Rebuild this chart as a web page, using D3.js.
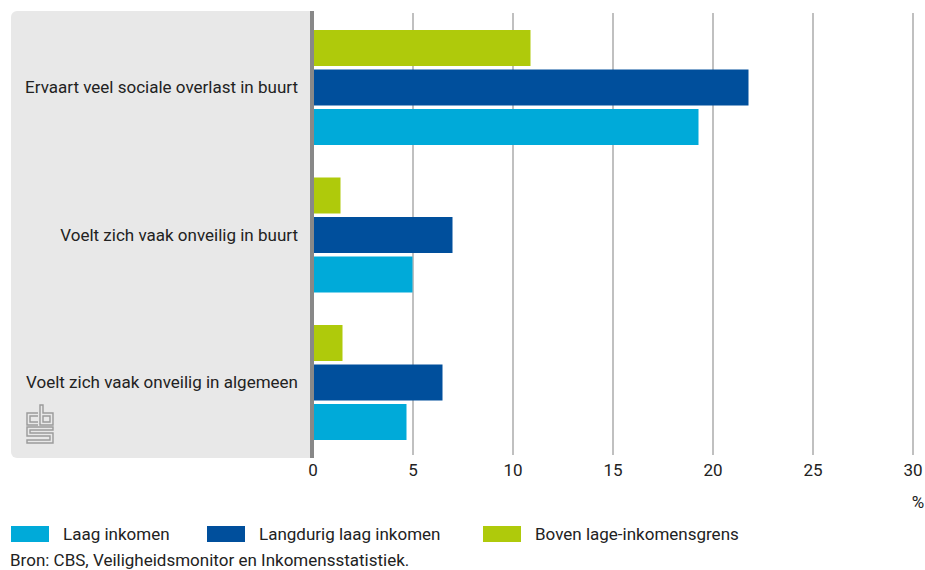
<!DOCTYPE html>
<html>
<head>
<meta charset="utf-8">
<script src="https://cdn.jsdelivr.net/npm/d3@7"></script>
<style>
  html, body { margin: 0; padding: 0; background: #fff; }
  svg { display: block; font-family: Roboto, "Noto Sans", sans-serif; }
</style>
</head>
<body>
<svg id="chart" width="925" height="570"></svg>
<script>
const categories = [
  "Ervaart veel sociale overlast in buurt",
  "Voelt zich vaak onveilig in buurt",
  "Voelt zich vaak onveilig in algemeen"
];
const seriesNames = ["Boven lage-inkomensgrens", "Langdurig laag inkomen", "Laag inkomen"];
const boven = [10.9, 1.4, 1.5];
const langdurig = [21.8, 7.0, 6.5];
const laag = [19.3, 5.0, 4.7];
const tickValues = [0, 5, 10, 15, 20, 25, 30];
const legendOrder = ["Laag inkomen", "Langdurig laag inkomen", "Boven lage-inkomensgrens"];
const source = "Bron: CBS, Veiligheidsmonitor en Inkomensstatistiek.";

const colors = {
  "Boven lage-inkomensgrens": "#afca0b",
  "Langdurig laag inkomen": "#004f9c",
  "Laag inkomen": "#00aad9"
};
const seriesValues = {
  "Boven lage-inkomensgrens": boven,
  "Langdurig laag inkomen": langdurig,
  "Laag inkomen": laag
};
const FS = 17;

const svg = d3.select("#chart");
const x = d3.scaleLinear().domain([0, 30]).range([312.5, 912.5]);
const y0 = d3.scaleBand().domain(categories).range([12, 454.5]);
const y1 = d3.scaleBand().domain(seriesNames).range([18, 133]).paddingInner(0.0886);

// grey label panel
svg.append("rect").attr("x", 11).attr("y", 11).attr("width", 306).attr("height", 447)
  .attr("rx", 6).attr("fill", "#e8e8e8");
svg.append("rect").attr("x", 312).attr("y", 11).attr("width", 10).attr("height", 447).attr("fill", "#fff");

// gridlines + tick labels via axis
const axis = d3.axisBottom(x).tickValues(tickValues).tickSize(-(455 - 13)).tickPadding(9)
  .tickFormat(d3.format("d"));
const ax = svg.append("g").attr("transform", "translate(0,455)").call(axis);
ax.select(".domain").remove();
ax.selectAll(".tick line").attr("stroke", "#c0c0c0").attr("stroke-width", 2);
ax.selectAll(".tick text").attr("fill", "#222").attr("font-size", FS)
  .attr("font-family", "Roboto, 'Noto Sans', sans-serif");
ax.selectAll(".tick").filter(d => d === 0).select("line").remove();

// bars
categories.forEach((cat, i) => {
  const g = svg.append("g").attr("transform", `translate(0,${y0(cat)})`);
  g.selectAll("rect").data(seriesNames).join("rect")
    .attr("x", x(0))
    .attr("y", s => y1(s))
    .attr("width", s => x(seriesValues[s][i]) - x(0))
    .attr("height", y1.bandwidth())
    .attr("fill", s => colors[s]);
});

// axis line
svg.append("rect").attr("x", 310).attr("y", 11).attr("width", 4).attr("height", 447).attr("fill", "#888");

// category labels
svg.append("g").selectAll("text").data(categories).join("text")
  .attr("x", 298)
  .attr("y", d => y0(d) + 18 + 115 / 2)
  .attr("dy", "0.35em")
  .attr("text-anchor", "end")
  .attr("font-size", FS)
  .attr("fill", "#222")
  .text(d => d);

// unit
svg.append("text").attr("x", 918).attr("y", 502).attr("dy", "0.35em")
  .attr("text-anchor", "middle").attr("font-size", FS).attr("fill", "#222").text("%");

// legend
const legendX = [11, 207, 483];
const lg = svg.append("g");
legendOrder.forEach((name, i) => {
  lg.append("rect").attr("x", legendX[i]).attr("y", 526).attr("width", 38).attr("height", 16)
    .attr("fill", colors[name]);
  lg.append("text").attr("x", legendX[i] + 52).attr("y", 534).attr("dy", "0.35em")
    .attr("font-size", FS).attr("fill", "#222").text(name);
});

// source
svg.append("text").attr("x", 10).attr("y", 566).attr("font-size", FS).attr("fill", "#222").text(source);

// CBS logo (simplified)
const logo = svg.append("g").attr("fill", "none").attr("stroke", "#9a9a9a").attr("stroke-width", 1.4);
logo.append("path").attr("d", "M38,413 H27 V425 H38 M38,416 H30 V422 H38");
logo.append("path").attr("d", "M40,405 V425 H53 V413 H43 V405 Z M43,416 H50 V422 H43 Z");
logo.append("path").attr("d", "M53,427 H27 V436 H50 V440 H27 V443 H53 V433 H30 V430 H53 Z");
</script>
</body>
</html>
